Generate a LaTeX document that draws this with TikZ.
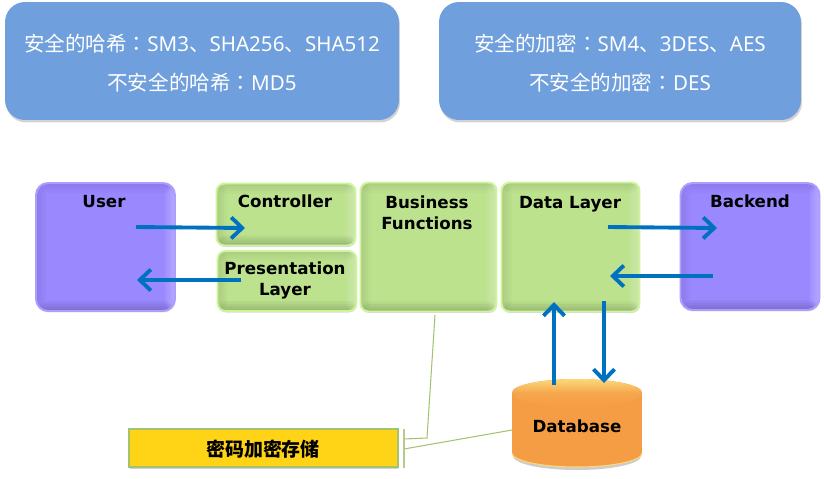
\documentclass[tikz,border=0pt]{standalone}
\usepackage{fontspec}
\setmainfont{DejaVu Sans}
\newfontfamily\cjk{Noto Sans CJK SC}
\newfontfamily\cjkcolon{Noto Sans CJK TC}
\newfontfamily\tah{Noto Sans}
\usepackage{tikz}
\usetikzlibrary{positioning,arrows.meta,shapes.geometric,shadows}
\definecolor{topblue}{HTML}{6F9FDC}
\definecolor{boxgreen}{HTML}{BCE28E}
\definecolor{rimgreen}{HTML}{CDF59C}
\definecolor{boxpurple}{HTML}{9A88FF}
\definecolor{rimpurple}{HTML}{AC9EFF}
\definecolor{arrowblue}{HTML}{0070C0}
\definecolor{tagyellow}{HTML}{FFD316}
\definecolor{tagline}{HTML}{A4C272}
\definecolor{tagbar}{HTML}{B5CB8E}
\definecolor{dborange}{HTML}{F59D45}
\definecolor{dbtop}{HTML}{FBD878}

\begin{document}
\begin{tikzpicture}[
  x=0.02cm,y=-0.02cm,
  topbox/.style={fill=topblue,rounded corners=0.4cm,minimum height=2.36cm,
                 drop shadow={shadow xshift=0.02cm,shadow yshift=-0.05cm,opacity=0.35}},
  toptext/.style={text=white,font=\tah\fontsize{11.7}{13}\selectfont},
  softedge/.style={path picture={
    \foreach \d in {0.05,0.1,0.15,0.2}{
      \fill[black,opacity=0.045] (path picture bounding box.south west) rectangle
        ([yshift=\d cm]path picture bounding box.south east);
      \fill[black,opacity=0.02] (path picture bounding box.north west) rectangle
        ([xshift=\d cm]path picture bounding box.south west);
      \fill[black,opacity=0.02] (path picture bounding box.north west) rectangle
        ([yshift=-\d cm]path picture bounding box.north east);
      \fill[white,opacity=0.07] (path picture bounding box.north east) rectangle
        ([xshift=-\d cm]path picture bounding box.south east);
    }}},
  greenbox/.style={fill=boxgreen,draw=rimgreen,line width=1.1pt,rounded corners=0.16cm,softedge,
                   drop shadow={shadow xshift=0.01cm,shadow yshift=-0.03cm,opacity=0.3}},
  purplebox/.style={fill=boxpurple,draw=rimpurple,line width=1.1pt,rounded corners=0.24cm,softedge,
                   drop shadow={shadow xshift=0.01cm,shadow yshift=-0.03cm,opacity=0.3}},
  boxlab/.style={font=\bfseries\fontsize{9.5}{12}\selectfont,align=center,text=black},
  flow/.style={draw=arrowblue,line width=2.2pt,
               -{Straight Barb[length=0.22cm,width=0.42cm,line width=2.2pt]}},
  thin tag/.style={draw=tagline,line width=0.6pt},
]
  % top boxes
  \node[topbox,minimum width=7.88cm] (hashbox) at (202,61) {};
  \node[topbox,minimum width=7.24cm] (cipherbox) at (620,61) {};
  \node[toptext] (hashgood) at (202,44) {{\cjk 安全的哈希}{\cjkcolon ：}SM3{\cjk 、}SHA256{\cjk 、}SHA512};
  \node[toptext] (hashbad) at (202,83) {{\cjk 不安全的哈希}{\cjkcolon ：}MD5};
  \node[toptext] (ciphergood) at (620,44) {{\cjk 安全的加密}{\cjkcolon ：}SM4{\cjk 、}3DES{\cjk 、}AES};
  \node[toptext] (cipherbad) at (620,83) {{\cjk 不安全的加密}{\cjkcolon ：}DES};

  % layers
  \node[purplebox,minimum width=2.78cm,minimum height=2.56cm] (user) at (105.5,247) {};
  \node[greenbox,minimum width=2.78cm,minimum height=1.24cm] (ctrl) at (286,214.5) {};
  \node[greenbox,minimum width=2.78cm,minimum height=1.2cm] (pres) at (287,281) {};
  \node[greenbox,minimum width=2.72cm,minimum height=2.58cm] (busi) at (428.5,247) {};
  \node[greenbox,minimum width=2.76cm,minimum height=2.58cm] (data) at (570.5,247) {};
  \node[purplebox,minimum width=2.78cm,minimum height=2.54cm] (back) at (750,246.5) {};

  % database
  \fill[black,opacity=0.2] (577,456) ellipse [x radius=64,y radius=14];
  \node[cylinder,shape border rotate=90,aspect=2.3,cylinder uses custom fill,
        cylinder body fill=dborange,cylinder end fill=dborange,
        minimum width=2.6cm,minimum height=1.76cm,anchor=shape center] (db) at (577,423) {};
  \shade[top color=dbtop,bottom color=dborange,middle color=dborange!85!dbtop]
    (577,393) ellipse [x radius=65,y radius=14];
  \draw[dbtop,line width=0.6pt] (512,453) arc [start angle=180,end angle=0,x radius=65,y radius=14];

  \node[fill=tagyellow,draw=tagline,line width=0.8pt,minimum width=5.38cm,minimum height=0.76cm,
        drop shadow={shadow xshift=0.01cm,shadow yshift=-0.04cm,opacity=0.35}] (tag) at (263.5,448) {};

  \node[boxlab] (userlab) at (104,202) {User};
  \node[boxlab] (ctrllab) at (285,201) {Controller};
  \node[boxlab] (preslab) at (285,280) {Presentation\\Layer};
  \node[boxlab] (busilab) at (427,213) {Business\\Functions};
  \node[boxlab] (datalab) at (570,204) {Data Layer};
  \node[boxlab] (backlab) at (750,201) {Backend};
  \node[boxlab] (dblab) at (577,426) {Database};
  \node[boxlab,font=\cjk\bfseries\fontsize{10.8}{12}\selectfont] (taglab) at (263,449) {密码加密存储};

  % arrow ends
  \coordinate (userout) at (136,227);
  \coordinate (ctrlin) at (245,228);
  \coordinate (presout) at (241,280);
  \coordinate (userin) at (137,280);
  \coordinate (dataout) at (608,227);
  \coordinate (backin) at (717,228);
  \coordinate (backout) at (713,276);
  \coordinate (datain) at (610,276);
  \coordinate (dbout) at (554,385);
  \coordinate (dataup) at (554,302);
  \coordinate (datadown) at (604,301);
  \coordinate (dbin) at (604,383);
  \draw[flow] (userout) -- (ctrlin);
  \draw[flow] (presout) -- (userin);
  \draw[flow] (dataout) -- (backin);
  \draw[flow] (backout) -- (datain);
  \draw[flow] (dbout) -- (dataup);
  \draw[flow] (datadown) -- (dbin);

  % tag lines
  \coordinate (busidrop) at (435,315);
  \coordinate (busibend) at (427,438);
  \coordinate (tagbusi) at (404,439);
  \coordinate (tagdb) at (404,449);
  \coordinate (dbside) at (512,430);
  \coordinate (tagtop) at (404,429);
  \coordinate (tagbot) at (404,468);
  \draw[thin tag] (busidrop) -- (busibend) -- (tagbusi);
  \draw[thin tag] (dbside) -- (tagdb);
  \draw[draw=tagbar,line width=1.1pt] (tagtop) -- (tagbot);
  \useasboundingbox (0,0) rectangle (824,478);
\end{tikzpicture}
\end{document}
